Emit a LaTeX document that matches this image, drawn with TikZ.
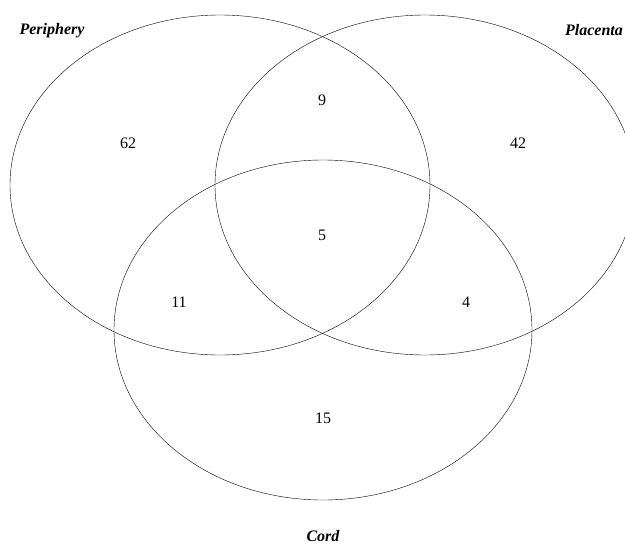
\documentclass[tikz,border=0pt]{standalone}
\usepackage{fontspec}
\setmainfont{Liberation Serif}
\usepackage{tikz}
\usetikzlibrary{positioning}

\begin{document}
\begin{tikzpicture}[x=1pt, y=-1pt,
  setlabel/.style={font=\fontsize{16}{19}\selectfont\bfseries\itshape, anchor=base},
  count/.style={font=\fontsize{16}{19}\selectfont}]
\useasboundingbox (0,0) rectangle (625,544);

% Periphery
\draw (220,185) ellipse [x radius=210, y radius=170];
\node[setlabel] (periphery) at (52,34) {Periphery};

% Placenta
\draw (425,185) ellipse [x radius=210, y radius=170];
\node[setlabel] (placenta) at (594,35) {Placenta};

% Cord
\draw (323,330) ellipse [x radius=209, y radius=170];
\node[setlabel] (cord) at (323,541) {Cord};

% Counts
\node[count] (n62) at (128,143) {62};
\node[count] (n9) at (322,100) {9};
\node[count] (n42) at (518,143) {42};
\node[count] (n5) at (322,235) {5};
\node[count] (n11) at (179,302) {11};
\node[count] (n4) at (466,302) {4};
\node[count] (n15) at (323,418) {15};
\end{tikzpicture}
\end{document}
